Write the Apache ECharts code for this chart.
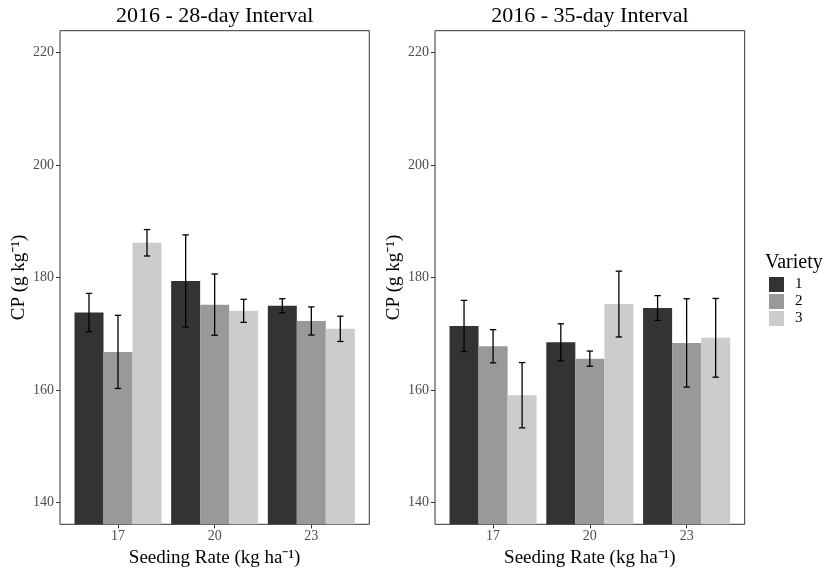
<!DOCTYPE html>
<html>
<head>
<meta charset="utf-8">
<script src="https://cdn.jsdelivr.net/npm/echarts@6/dist/echarts.min.js"></script>
<style>
html,body{margin:0;padding:0;background:#fff;}
#chart{width:827px;height:569px;}
</style>
</head>
<body>
<div id="chart"></div>
<script>
// ---- data ----
const categories = ['17', '20', '23'];
const yTicks = [140, 160, 180, 200, 220];
const varieties = ['1', '2', '3'];

// 2016 - 28-day Interval
const int28_v1 = [173.8, 179.4, 175.0];
const int28_v2 = [166.8, 175.2, 172.3];
const int28_v3 = [186.2, 174.1, 170.9];
const int28_se1 = [3.4, 8.2, 1.25];
const int28_se2 = [6.5, 5.45, 2.5];
const int28_se3 = [2.35, 2.05, 2.25];

// 2016 - 35-day Interval
const int35_v1 = [171.4, 168.5, 174.6];
const int35_v2 = [167.8, 165.6, 168.4];
const int35_v3 = [159.1, 175.3, 169.3];
const int35_se1 = [4.55, 3.3, 2.2];
const int35_se2 = [2.95, 1.35, 7.85];
const int35_se3 = [5.8, 5.85, 7.0];

const colors = ['#333333', '#999999', '#cccccc'];
const FONT = 'Liberation Serif';
const Y_MIN = 136.15, Y_MAX = 223.9;

const chart = echarts.init(document.getElementById('chart'), null, {renderer: 'canvas'});

const TOP = 30.7, HEIGHT = 493.6;
const panels = [
  {box: 60, boxW: 309.3, title: '2016 - 28-day Interval', vals: [int28_v1, int28_v2, int28_v3], se: [int28_se1, int28_se2, int28_se3]},
  {box: 435, boxW: 309.7, title: '2016 - 35-day Interval', vals: [int35_v1, int35_v2, int35_v3], se: [int35_se1, int35_se2, int35_se3]}
];

const grid = [], xAxis = [], yAxis = [], series = [], title = [];

panels.forEach((p, pi) => {
  const unit = p.boxW / 3.2;
  const barLeft = p.box + 0.1 * unit;
  const barW = 3 * unit;
  // box grid
  grid.push({left: p.box, top: TOP, width: p.boxW, height: HEIGHT, show: true, borderColor: '#333333', borderWidth: 1, backgroundColor: 'transparent', containLabel: false, outerBoundsMode: 'none'});
  // bar grid
  grid.push({left: barLeft, top: TOP, width: barW, height: HEIGHT, show: false, containLabel: false, outerBoundsMode: 'none'});
  const gBox = pi * 2, gBar = pi * 2 + 1;

  xAxis.push({gridIndex: gBox, type: 'value', min: 0, max: 1, show: false});
  xAxis.push({
    gridIndex: gBar, type: 'category', data: categories,
    axisLine: {show: false},
    axisTick: {show: true, alignWithLabel: true, length: 4, lineStyle: {color: '#333333', width: 1}},
    axisLabel: {fontFamily: FONT, fontSize: 14, color: '#4d4d4d', margin: 5},
    name: 'Seeding Rate (kg ha\u207B\u00B9)', nameLocation: 'middle', nameGap: 20,
    nameTextStyle: {fontFamily: FONT, fontSize: 19, color: '#000'}
  });

  yAxis.push({
    gridIndex: gBox, type: 'value', min: Y_MIN, max: Y_MAX,
    axisLine: {show: false},
    splitLine: {show: false},
    axisTick: {show: true, length: 4, customValues: yTicks, lineStyle: {color: '#333333'}},
    axisLabel: {customValues: yTicks, fontFamily: FONT, fontSize: 14, color: '#4d4d4d', margin: 6},
    name: 'CP (g kg\u207B\u00B9)', nameLocation: 'middle', nameGap: 31,
    nameTextStyle: {fontFamily: FONT, fontSize: 19, color: '#000'}
  });
  yAxis.push({gridIndex: gBar, type: 'value', min: Y_MIN, max: Y_MAX, show: false, splitLine: {show: false}});

  title.push({
    text: p.title, left: p.box + p.boxW / 2, top: 5, textAlign: 'center', padding: 0,
    textStyle: {fontFamily: FONT, fontSize: 22, fontWeight: 'normal', color: '#000'}
  });

  p.vals.forEach((arr, vi) => {
    series.push({
      name: varieties[vi], type: 'bar', xAxisIndex: gBar, yAxisIndex: gBar,
      data: arr, barWidth: '30%', barGap: '0%',
      itemStyle: {color: colors[vi]}, animation: false, silent: true
    });
  });

  const errData = [];
  p.vals.forEach((arr, vi) => {
    arr.forEach((v, ci) => {
      errData.push([ci, v - p.se[vi][ci], v + p.se[vi][ci], vi - 1]);
    });
  });
  series.push({
    type: 'custom', xAxisIndex: gBar, yAxisIndex: gBar, data: errData, z: 10, animation: false, silent: true,
    encode: {x: 0, y: [1, 2]},
    renderItem: function (params, api) {
      const ci = api.value(0), lo = api.value(1), hi = api.value(2), off = api.value(3);
      const band = api.size([1, 0])[0];
      const pLo = api.coord([ci, lo]);
      const pHi = api.coord([ci, hi]);
      const cx = pLo[0] + off * band * 0.3;
      const cap = 3.2;
      const style = {stroke: '#000', lineWidth: 1.3};
      return {
        type: 'group',
        children: [
          {type: 'line', shape: {x1: cx, y1: pLo[1], x2: cx, y2: pHi[1]}, style: style},
          {type: 'line', shape: {x1: cx - cap, y1: pLo[1], x2: cx + cap, y2: pLo[1]}, style: style},
          {type: 'line', shape: {x1: cx - cap, y1: pHi[1], x2: cx + cap, y2: pHi[1]}, style: style}
        ]
      };
    }
  });
});

title.push({
  text: 'Variety', left: 765, top: 253, padding: 0,
  textStyle: {fontFamily: FONT, fontSize: 20, fontWeight: 'normal', color: '#000'}
});

const option = {
  backgroundColor: '#fff',
  animation: false,
  title: title,
  grid: grid,
  xAxis: xAxis,
  yAxis: yAxis,
  legend: {
    data: varieties, orient: 'vertical', left: 769, top: 277, padding: 0,
    icon: 'rect', itemWidth: 15, itemHeight: 15, itemGap: 2,
    selectedMode: false,
    textStyle: {fontFamily: FONT, fontSize: 15, color: '#000', padding: [0, 0, 0, 6]}
  },
  series: series
};
chart.setOption(option);
</script>
</body>
</html>
